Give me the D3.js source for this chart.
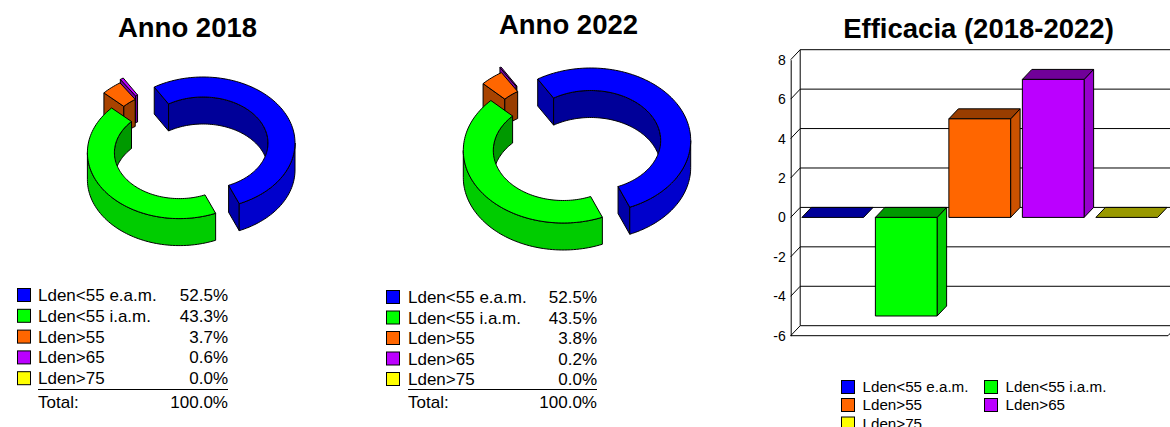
<!DOCTYPE html>
<html>
<head>
<meta charset="utf-8">
<script src="https://cdn.jsdelivr.net/npm/d3@7"></script>
<style>
html, body { margin: 0; padding: 0; background: #fff; overflow: hidden; }
svg { display: block; font-family: "Liberation Sans", Arial, sans-serif; }
</style>
</head>
<body>
<div id="chart"></div>
<script>
// data
const categories = ["Lden<55 e.a.m.", "Lden<55 i.a.m.", "Lden>55", "Lden>65", "Lden>75"];
const values2018 = [52.5, 43.3, 3.7, 0.6, 0.0];
const values2022 = [52.5, 43.5, 3.8, 0.2, 0.0];
const efficacia = [0, -5, 5, 7, 0];
const yTicks = [8, 6, 4, 2, 0, -2, -4, -6];
const colours = ["#0000ff", "#00ff00", "#ff6600", "#bb00ff", "#ffff00"];

const width = 1170, height = 427;
const depth = 27;
const startDeg = -122;

const svg = d3.select("#chart").append("svg")
    .attr("width", width)
    .attr("height", height);

function shade(col, k) {
    const c = d3.rgb(col);
    return d3.rgb(c.r * k, c.g * k, c.b * k).formatHex();
}

// ---- 3d donuts ----
function ellipsePts(a0, a1, r, c, dy) {
    const n = Math.max(2, Math.ceil((a1 - a0) / 0.03));
    return d3.range(n + 1).map(i => {
        const a = a0 + (a1 - a0) * i / n;
        return [c[0] + r[0] * Math.cos(a), c[1] + r[1] * Math.sin(a) + dy];
    });
}

// parts of [a0,a1] where the wall faces the viewer
function clipRanges(a0, a1, ranges) {
    const out = [];
    ranges.forEach(r => {
        const s = Math.max(a0, r[0]), e = Math.min(a1, r[1]);
        if (e > s) out.push([s, e]);
    });
    return out;
}

function drawDonut(values, opt) {
    const g = svg.append("g");
    const line = d3.line();
    const arcs = d3.pie().sort(null)
        .startAngle(startDeg * Math.PI / 180)
        .endAngle(startDeg * Math.PI / 180 + 2 * Math.PI)(values);
    const pi = Math.PI;
    const innerRanges = [[-pi, 0], [pi, 2 * pi]];
    const outerRanges = [[0, pi], [2 * pi, 3 * pi]];

    // back to front: last slices sit behind the green one
    d3.range(arcs.length - 1, -1, -1).forEach(i => {
        const d = arcs[i];
        if (d.value === 0) return;
        const col = colours[i];
        const c = opt.centers[i];
        const a0 = d.startAngle, a1 = d.endAngle;

        function face(pts, fill) {
            g.append("path")
                .attr("d", line(pts) + "Z")
                .attr("fill", fill)
                .attr("stroke", "#000")
                .attr("stroke-width", 1)
                .attr("stroke-linejoin", "round");
        }

        // cut faces
        [a0, a1].forEach((a, j) => {
            const ny = j == 0 ? -Math.cos(a) : Math.cos(a);
            if (ny <= 0) return;
            const po = [c[0] + opt.outer[0] * Math.cos(a), c[1] + opt.outer[1] * Math.sin(a)];
            const pi2 = [c[0] + opt.inner[0] * Math.cos(a), c[1] + opt.inner[1] * Math.sin(a)];
            face([po, pi2, [pi2[0], pi2[1] + depth], [po[0], po[1] + depth]], shade(col, 0.66));
        });

        clipRanges(a0, a1, innerRanges).forEach(r => {
            const top = ellipsePts(r[0], r[1], opt.inner, c, 0);
            const bot = ellipsePts(r[0], r[1], opt.inner, c, depth).reverse();
            face(top.concat(bot), shade(col, 0.6));
        });
        clipRanges(a0, a1, outerRanges).forEach(r => {
            const top = ellipsePts(r[0], r[1], opt.outer, c, 0);
            const bot = ellipsePts(r[0], r[1], opt.outer, c, depth).reverse();
            face(top.concat(bot), shade(col, 0.8));
        });

        const topOuter = ellipsePts(a0, a1, opt.outer, c, 0);
        const topInner = ellipsePts(a0, a1, opt.inner, c, 0).reverse();
        face(topOuter.concat(topInner), col);
    });
}

function drawTitle(text, x, y) {
    svg.append("text")
        .attr("x", x).attr("y", y)
        .attr("text-anchor", "middle")
        .attr("font-size", 27.5)
        .attr("font-weight", "bold")
        .attr("fill", "#000")
        .text(text);
}

// ---- table style legend under the donuts ----
function drawTable(values, opt) {
    const g = svg.append("g");
    const fmt = d3.format(".1f");
    categories.forEach((name, i) => {
        const y = opt.y + i * opt.step;
        g.append("rect")
            .attr("x", opt.box + 0.5).attr("y", y - 12.5)
            .attr("width", 13).attr("height", 13)
            .attr("fill", colours[i])
            .attr("stroke", "#000");
        g.append("text")
            .attr("x", opt.text).attr("y", y)
            .attr("font-size", 17)
            .text(name);
        g.append("text")
            .attr("x", opt.right).attr("y", y)
            .attr("font-size", 17)
            .attr("text-anchor", "end")
            .text(fmt(values[i]) + "%");
    });
    g.append("line")
        .attr("x1", opt.text).attr("x2", opt.right)
        .attr("y1", 389.5).attr("y2", 389.5)
        .attr("stroke", "#000");
    g.append("text")
        .attr("x", opt.text).attr("y", opt.total)
        .attr("font-size", 17)
        .text("Total:");
    g.append("text")
        .attr("x", opt.right).attr("y", opt.total)
        .attr("font-size", 17)
        .attr("text-anchor", "end")
        .text("100.0%");
}

drawTitle("Anno 2018", 187.5, 37);
drawDonut(values2018, {
    outer: [92, 66], inner: [65, 46],
    centers: [[203, 143], [179.4, 152.6], [171.7, 137.5], [172, 134], [172, 134]]
});
drawTable(values2018, { box: 17, text: 38, right: 228, y: 301, step: 20.8, total: 408 });

drawTitle("Anno 2022", 568.5, 34);
drawDonut(values2022, {
    outer: [100, 72.5], inner: [70, 50],
    centers: [[590.7, 140.5], [563.3, 150.5], [555.5, 133.6], [554, 128.5], [554, 128.5]]
});
drawTable(values2022, { box: 386, text: 408, right: 597, y: 303, step: 20.5, total: 408 });

// ---- bar chart ----
drawTitle("Efficacia (2018-2022)", 978.5, 38);

const dx = 9.5, dy = -10;
const plotLeft = 790.7, plotRight = 1168;
const y = d3.scaleLinear().domain([-6, 8]).range([335.7, 59.7]);
const x = d3.scaleBand()
    .domain(categories)
    .range([796, 1163.5])
    .paddingInner(0.16)
    .paddingOuter(0.08);

const bars = svg.append("g");

// back wall grid and the slanted ticks
yTicks.forEach(t => {
    bars.append("line")
        .attr("x1", plotLeft + dx).attr("x2", width)
        .attr("y1", y(t) + dy).attr("y2", y(t) + dy)
        .attr("stroke", "#000");
    bars.append("line")
        .attr("x1", plotLeft).attr("x2", plotLeft + dx)
        .attr("y1", y(t)).attr("y2", y(t) + dy)
        .attr("stroke", "#000");
});
bars.append("line")
    .attr("x1", plotLeft + dx).attr("x2", plotLeft + dx)
    .attr("y1", y(8) + dy).attr("y2", y(-6) + dy)
    .attr("stroke", "#000");
// floor front edge
bars.append("line")
    .attr("x1", plotLeft).attr("x2", plotRight)
    .attr("y1", y(-6)).attr("y2", y(-6))
    .attr("stroke", "#000");
bars.append("line")
    .attr("x1", plotRight).attr("x2", plotRight + dx)
    .attr("y1", y(-6)).attr("y2", y(-6) + dy)
    .attr("stroke", "#000");

const yAxis = d3.axisLeft(y)
    .tickValues(yTicks)
    .tickFormat(t => String(t))
    .tickSize(0)
    .tickPadding(5);
const axisG = bars.append("g")
    .attr("transform", `translate(${plotLeft},0)`)
    .call(yAxis);
axisG.select(".domain").attr("stroke", "#000");
axisG.selectAll("text")
    .attr("font-size", 14)
    .attr("font-family", "'Liberation Sans', Arial, sans-serif")
    .attr("fill", "#000");

const line3d = d3.line();
efficacia.forEach((v, i) => {
    const x0 = x(categories[i]), x1 = x0 + x.bandwidth();
    const yTop = y(Math.max(v, 0)), yBot = y(Math.min(v, 0));
    const col = colours[i];
    const g = bars.append("g")
        .attr("stroke", "#000")
        .attr("stroke-linejoin", "round");
    if (v !== 0) {
        g.append("path")
            .attr("d", line3d([[x1, yTop], [x1 + dx, yTop + dy], [x1 + dx, yBot + dy], [x1, yBot]]) + "Z")
            .attr("fill", shade(col, 0.8));
    }
    g.append("path")
        .attr("d", line3d([[x0, yTop], [x0 + dx, yTop + dy], [x1 + dx, yTop + dy], [x1, yTop]]) + "Z")
        .attr("fill", shade(col, 0.6));
    if (v !== 0) {
        g.append("rect")
            .attr("x", x0).attr("y", yTop)
            .attr("width", x.bandwidth()).attr("height", yBot - yTop)
            .attr("fill", col);
    }
});

// bar legend, two columns, third row runs off the page
const legendCols = [841, 984];
const legendRows = [392, 410, 428.5];
categories.forEach((name, i) => {
    const bx = legendCols[i % 2], by = legendRows[Math.floor(i / 2)];
    svg.append("rect")
        .attr("x", bx + 0.5).attr("y", by - 11.5)
        .attr("width", 13).attr("height", 13)
        .attr("fill", colours[i])
        .attr("stroke", "#000");
    svg.append("text")
        .attr("x", bx + 21.5).attr("y", by)
        .attr("font-size", 15.2)
        .text(name);
});
</script>
</body>
</html>
